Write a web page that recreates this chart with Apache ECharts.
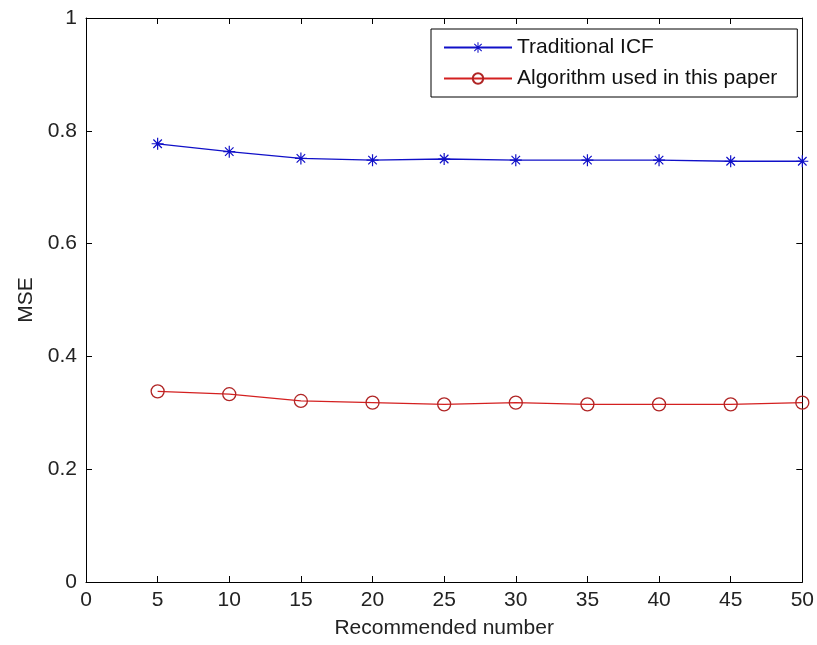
<!DOCTYPE html>
<html>
<head>
<meta charset="utf-8">
<script src="https://cdn.jsdelivr.net/npm/echarts@6/dist/echarts.min.js"></script>
<style>
html,body{margin:0;padding:0;background:#fff;}
#chart{width:817px;height:645px;}
</style>
</head>
<body>
<div id="chart"></div>
<script>
// data
var recNumbers = [5, 10, 15, 20, 25, 30, 35, 40, 45, 50];
var icfMse = [0.777, 0.763, 0.751, 0.748, 0.750, 0.748, 0.748, 0.748, 0.746, 0.746];
var paperMse = [0.338, 0.333, 0.321, 0.318, 0.315, 0.318, 0.315, 0.315, 0.315, 0.318];
var seriesNames = ['Traditional ICF', 'Algorithm used in this paper'];

function pairs(ys) {
    return recNumbers.map(function (x, i) { return [x, ys[i]]; });
}

// asterisk marker built from thin bars
var starPath = 'path://M9,0h2v20h-2z M0,9h20v2h-20z M2.2,3.6l1.4,-1.4l14.2,14.2l-1.4,1.4z M16.4,2.2l1.4,1.4l-14.2,14.2l-1.4,-1.4z';

var fontFam = '"Liberation Sans", Arial, sans-serif';
var txt = { color: '#222', fontSize: 21, fontFamily: fontFam };

var option = {
    animation: false,
    backgroundColor: '#fff',
    grid: { left: 86, right: 14, top: 18, bottom: 63 },
    legend: {
        left: 431,
        top: 29,
        width: 366,
        orient: 'vertical',
        backgroundColor: '#fff',
        borderColor: '#000',
        borderWidth: 1,
        borderRadius: 0,
        padding: [8, 20, 8, 12],
        itemGap: 10,
        itemWidth: 68,
        itemHeight: 13,
        textStyle: { color: '#111', fontSize: 21, fontFamily: fontFam },
        data: seriesNames
    },
    xAxis: [{
        type: 'value',
        min: 0, max: 50, interval: 5,
        name: 'Recommended number',
        nameLocation: 'middle',
        nameGap: 36,
        nameTextStyle: txt,
        axisLine: { onZero: false, lineStyle: { color: '#000', width: 1 } },
        axisTick: { inside: true, length: 6, lineStyle: { color: '#000' } },
        axisLabel: Object.assign({ margin: 8 }, txt),
        splitLine: { show: false }
    }, {
        type: 'value', position: 'top',
        min: 0, max: 50, interval: 5,
        axisLine: { show: true, onZero: false, lineStyle: { color: '#000' } },
        axisTick: { inside: true, length: 6, lineStyle: { color: '#000' } },
        axisLabel: { show: false },
        splitLine: { show: false }
    }],
    yAxis: [{
        type: 'value',
        min: 0, max: 1, interval: 0.2,
        name: 'MSE',
        nameLocation: 'middle',
        nameGap: 48,
        nameTextStyle: txt,
        axisLine: { show: true, onZero: false, lineStyle: { color: '#000', width: 1 } },
        axisTick: { show: true, inside: true, length: 6, lineStyle: { color: '#000' } },
        axisLabel: Object.assign({ margin: 9, formatter: function (v) { return v === 0 ? '0' : (v === 1 ? '1' : v.toFixed(1)); } }, txt),
        splitLine: { show: false }
    }, {
        type: 'value', position: 'right',
        min: 0, max: 1, interval: 0.2,
        axisLine: { show: true, onZero: false, lineStyle: { color: '#000' } },
        axisTick: { show: true, inside: true, length: 6, lineStyle: { color: '#000' } },
        axisLabel: { show: false },
        splitLine: { show: false }
    }],
    series: [{
        name: seriesNames[0],
        type: 'line',
        data: pairs(icfMse),
        symbol: starPath,
        symbolSize: 12,
        lineStyle: { color: '#1010c8', width: 1.3 },
        itemStyle: { color: '#1010c8' }
    }, {
        name: seriesNames[1],
        type: 'line',
        data: pairs(paperMse),
        symbol: 'circle',
        symbolSize: 13,
        lineStyle: { color: '#d42020', width: 1.3 },
        itemStyle: { color: 'rgba(0,0,0,0)', borderColor: '#b02525', borderWidth: 1.3 }
    }]
};

var chart = echarts.init(document.getElementById('chart'));
chart.setOption(option);
</script>
</body>
</html>
